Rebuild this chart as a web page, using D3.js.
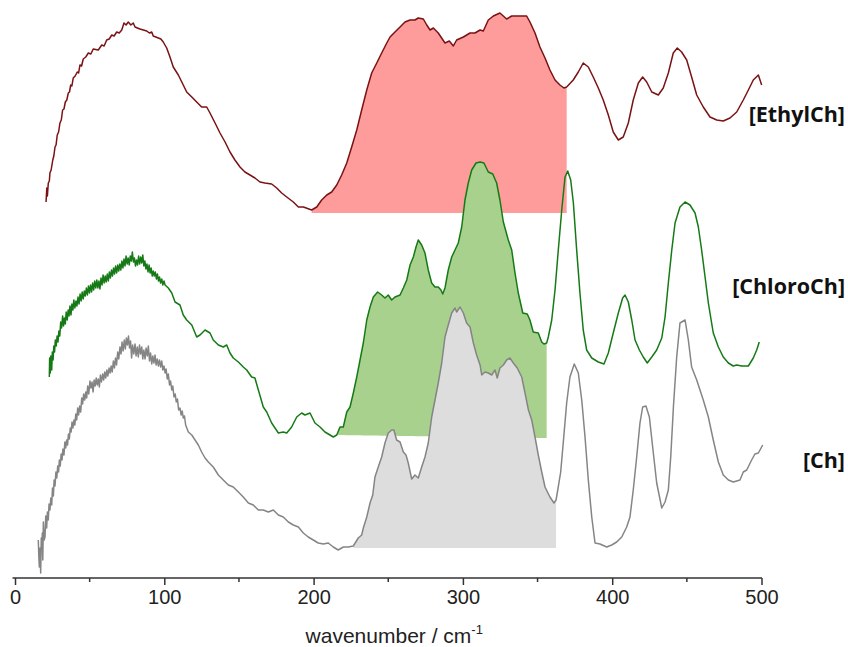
<!DOCTYPE html>
<html>
<head>
<meta charset="utf-8">
<script src="https://cdn.jsdelivr.net/npm/d3@7"></script>
<style>
  html, body { margin: 0; padding: 0; background: #fff; }
  svg { display: block; }
</style>
</head>
<body>
<svg id="chart" width="848" height="647"></svg>
<script>
// Far-IR spectra, offset vertically (intensity in arbitrary units)
// Each entry: [wavenumber / cm-1, intensity]
const ethylCh = [
  [20.8,3.76],[21.3,3.90],[21.7,3.82],[22.3,3.95],[23.0,3.97],[23.4,4.05],[24.2,4.08],[25.3,4.18],
  [26.0,4.22],[26.8,4.31],[27.5,4.33],[28.3,4.43],[29.2,4.46],[30.1,4.55],[31.0,4.58],[31.9,4.68],
  [32.8,4.69],[33.7,4.76],[34.7,4.78],[35.7,4.85],[36.5,4.86],[37.3,4.93],[38.1,4.92],[39.0,5.00],
  [40.3,5.02],[41.7,5.06],[42.6,5.05],[43.5,5.13],[44.6,5.12],[45.7,5.19],[47.4,5.21],[49.1,5.25],
  [50.8,5.24],[52.4,5.29],[55.8,5.28],[58.1,5.33],[59.7,5.32],[61.4,5.38],[63.1,5.39],[64.8,5.43],
  [66.4,5.42],[68.1,5.46],[69.8,5.45],[71.5,5.48],[73.0,5.55],[74.4,5.53],[75.9,5.56],[77.6,5.53],
  [79.2,5.55],[80.4,5.51],[82.0,5.50],[83.7,5.49],[86.0,5.48],[88.2,5.47],[90.0,5.45],[91.6,5.46],
  [92.6,5.42],[94.3,5.41],[96.0,5.40],[97.7,5.39],[99.3,5.36],[101.6,5.30],[103.8,5.21],[106.0,5.11],
  [109.4,5.03],[112.7,4.93],[115.0,4.86],[118.4,4.81],[121.7,4.76],[125.0,4.71],[128.4,4.71],[130.6,4.65],
  [134.0,4.55],[137.3,4.45],[140.7,4.36],[144.0,4.26],[147.3,4.18],[150.7,4.11],[154.0,4.06],[157.4,4.03],
  [160.7,4.00],[164.1,3.96],[167.4,3.95],[171.9,3.94],[175.3,3.90],[178.6,3.85],[182.0,3.81],[186.4,3.76],
  [189.8,3.71],[193.2,3.71],[198.7,3.68],[202.1,3.71],[205.4,3.78],[208.8,3.83],[212.1,3.86],[215.5,3.93],
  [218.8,4.03],[222.2,4.15],[225.5,4.31],[228.9,4.48],[232.2,4.68],[235.6,4.88],[238.9,5.05],[242.3,5.15],
  [245.6,5.25],[249.0,5.35],[251.2,5.41],[254.5,5.46],[257.9,5.51],[261.2,5.56],[264.6,5.58],[267.9,5.58],
  [270.1,5.60],[273.5,5.59],[275.8,5.53],[278.0,5.48],[280.2,5.50],[283.5,5.45],[288.0,5.35],[290.9,5.37],
  [293.6,5.32],[295.8,5.38],[300.3,5.41],[304.8,5.45],[308.1,5.45],[311.5,5.48],[313.7,5.47],[317.0,5.58],
  [320.4,5.62],[324.8,5.65],[329.3,5.59],[332.7,5.62],[338.2,5.62],[342.7,5.62],[344.9,5.56],[348.3,5.45],
  [351.6,5.31],[355.0,5.20],[358.3,5.08],[361.7,4.98],[365.0,4.93],[367.7,4.90],[369.5,4.91],[373.9,4.98],
  [377.3,5.06],[380.6,5.15],[384.0,5.11],[387.3,5.01],[390.7,4.90],[394.0,4.78],[397.4,4.63],[400.7,4.46],
  [404.1,4.38],[407.4,4.41],[410.8,4.55],[414.1,4.78],[417.5,4.95],[420.4,5.01],[423.1,4.96],[426.5,4.86],
  [430.9,4.83],[434.2,4.90],[437.6,5.05],[440.9,5.25],[443.6,5.30],[446.5,5.26],[449.9,5.18],[453.2,5.01],
  [456.6,4.83],[461.0,4.71],[465.5,4.61],[470.0,4.58],[474.4,4.57],[478.9,4.60],[483.4,4.66],[487.8,4.78],
  [491.2,4.88],[494.5,4.98],[497.9,5.03],[500.1,4.93]
];

const chloroCh = [
  [23.0,2.01],[23.2,2.20],[23.6,2.05],[24.0,2.22],[24.6,2.08],[25.0,2.26],[25.5,2.18],[26.0,2.32],
  [26.5,2.26],[27.0,2.38],[27.6,2.32],[28.2,2.42],[28.8,2.36],[29.4,2.47],[30.0,2.42],[30.6,2.56],
  [31.2,2.50],[31.9,2.62],[32.5,2.52],[33.1,2.60],[33.7,2.54],[34.3,2.66],[35.0,2.58],[35.6,2.68],
  [36.2,2.62],[36.8,2.72],[37.5,2.63],[38.1,2.74],[38.8,2.68],[39.4,2.78],[40.1,2.70],[40.8,2.77],
  [41.5,2.72],[42.2,2.81],[42.9,2.74],[43.6,2.84],[44.3,2.77],[45.0,2.86],[45.7,2.79],[46.4,2.87],
  [47.1,2.82],[47.8,2.90],[48.5,2.83],[49.2,2.92],[49.9,2.85],[50.6,2.93],[51.3,2.86],[52.0,2.95],
  [52.7,2.88],[53.4,2.97],[54.1,2.90],[54.8,2.98],[55.5,2.90],[56.2,2.97],[56.9,2.89],[57.6,3.00],
  [58.3,2.93],[59.0,3.03],[59.7,2.95],[60.4,3.02],[61.1,2.96],[61.8,3.04],[62.5,2.97],[63.2,3.06],
  [63.9,3.00],[64.6,3.08],[65.3,3.02],[66.0,3.10],[66.7,3.04],[67.4,3.12],[68.1,3.05],[68.8,3.13],
  [69.5,3.07],[70.2,3.14],[70.9,3.08],[71.6,3.17],[72.3,3.10],[73.0,3.19],[73.7,3.12],[74.4,3.22],
  [75.1,3.14],[75.8,3.20],[76.5,3.13],[77.2,3.22],[77.9,3.17],[78.6,3.26],[79.3,3.16],[80.0,3.20],
  [80.7,3.12],[81.4,3.18],[82.1,3.13],[82.8,3.22],[83.5,3.14],[84.2,3.21],[84.9,3.15],[85.6,3.23],
  [86.3,3.12],[87.0,3.17],[87.7,3.09],[88.4,3.14],[89.1,3.06],[89.8,3.13],[90.5,3.05],[91.2,3.10],
  [91.9,3.02],[92.6,3.07],[93.3,3.02],[94.0,3.06],[94.7,2.99],[95.4,3.04],[96.1,2.97],[96.8,3.01],
  [97.5,2.95],[98.3,2.99],[99.0,2.93],[99.8,2.97],[100.5,2.93],[102.7,2.90],[105.0,2.85],
  [107.2,2.76],[110.5,2.73],[112.7,2.63],[115.0,2.58],[118.4,2.53],[121.7,2.41],[123.9,2.43],[127.3,2.48],
  [130.6,2.45],[132.8,2.38],[136.2,2.33],[139.5,2.31],[141.8,2.33],[144.0,2.25],[146.2,2.20],[149.6,2.16],
  [152.9,2.11],[155.2,2.08],[158.5,2.01],[160.7,2.00],[163.0,1.88],[166.3,1.71],[168.6,1.66],[171.9,1.55],
  [176.4,1.45],[179.7,1.46],[182.0,1.45],[185.3,1.51],[188.7,1.61],[192.0,1.65],[194.2,1.63],[197.6,1.65],
  [200.9,1.55],[204.3,1.51],[207.6,1.46],[213.2,1.41],[215.5,1.43],[217.7,1.51],[219.9,1.51],[222.2,1.66],
  [224.4,1.71],[226.6,1.85],[228.9,2.01],[231.1,2.18],[233.3,2.35],[235.6,2.58],[237.8,2.71],[240.0,2.81],
  [242.9,2.86],[245.6,2.83],[247.8,2.80],[250.0,2.83],[252.3,2.78],[254.5,2.81],[257.9,2.83],[260.1,2.90],
  [262.4,2.98],[264.6,3.13],[266.8,3.21],[268.6,3.31],[270.1,3.38],[272.4,3.33],[274.6,3.25],[276.8,3.08],
  [279.1,2.95],[281.3,2.91],[283.5,2.91],[285.3,2.88],[286.5,2.84],[288.0,2.90],[290.2,3.08],[292.5,3.21],
  [294.7,3.28],[296.9,3.35],[299.2,3.51],[301.4,3.78],[303.6,3.95],[305.9,4.08],[308.8,4.15],[311.5,4.16],
  [314.1,4.15],[317.0,4.06],[320.0,4.04],[322.6,3.95],[324.8,3.78],[327.1,3.56],[330.4,3.38],[332.7,3.28],
  [334.9,3.05],[337.1,2.85],[340.1,2.65],[343.1,2.64],[344.9,2.58],[347.1,2.46],[350.5,2.45],[352.8,2.36],
  [354.3,2.34],[356.1,2.35],[357.2,2.41],[359.5,2.58],[361.7,2.88],[363.9,3.28],[366.2,3.68],[368.4,4.01],
  [370.2,4.07],[372.2,3.98],[374.0,3.75],[376.2,3.28],[378.4,2.85],[380.6,2.48],[382.9,2.28],[386.3,2.20],
  [390.7,2.16],[394.5,2.14],[397.4,2.25],[400.7,2.45],[404.1,2.65],[407.0,2.80],[408.6,2.83],[410.8,2.76],
  [413.1,2.58],[415.3,2.38],[418.2,2.28],[420.8,2.21],[423.5,2.15],[426.5,2.21],[429.8,2.28],[433.2,2.40],
  [435.4,2.61],[437.6,2.95],[439.9,3.28],[442.1,3.55],[445.4,3.71],[448.8,3.76],[452.1,3.73],[455.5,3.65],
  [457.7,3.51],[459.9,3.28],[462.2,3.01],[464.4,2.75],[467.7,2.45],[471.1,2.31],[474.4,2.21],[477.8,2.15],
  [481.1,2.12],[483.4,2.13],[486.7,2.12],[491.2,2.12],[494.5,2.20],[496.8,2.28],[498.5,2.36]
];

const ch = [
  [15.6,0.38],[16.0,0.20],[16.3,0.11],[16.8,0.30],[17.2,0.05],[17.6,0.40],[17.9,0.28],[18.3,0.45],
  [18.6,0.18],[19.0,0.56],[19.5,0.38],[20.1,0.41],[20.6,0.62],[21.2,0.50],[21.7,0.66],[22.3,0.58],
  [22.8,0.74],[23.4,0.68],[24.0,0.80],[24.6,0.73],[25.1,0.90],[25.7,0.82],[26.2,0.98],[26.8,0.92],
  [27.4,1.06],[28.0,1.00],[28.6,1.12],[29.2,1.06],[29.7,1.18],[30.3,1.12],[30.9,1.24],[31.5,1.18],
  [32.1,1.29],[32.8,1.23],[33.4,1.36],[34.0,1.30],[34.6,1.38],[35.2,1.33],[35.8,1.44],[36.4,1.39],
  [37.0,1.50],[37.6,1.46],[38.2,1.56],[38.8,1.50],[39.5,1.58],[40.1,1.53],[40.7,1.64],[41.3,1.58],
  [42.0,1.70],[42.6,1.63],[43.3,1.72],[44.0,1.66],[44.7,1.80],[45.3,1.74],[46.0,1.84],[46.7,1.78],
  [47.4,1.86],[48.0,1.80],[48.7,1.92],[49.4,1.84],[50.2,1.97],[50.9,1.90],[51.6,1.96],[52.3,1.86],
  [53.0,1.98],[53.7,1.92],[54.4,2.00],[55.1,1.93],[55.8,1.99],[56.5,1.91],[57.2,2.03],[57.9,1.96],
  [58.7,2.04],[59.4,1.98],[60.1,2.06],[60.8,2.00],[61.5,2.08],[62.2,2.02],[63.0,2.10],[63.7,2.05],
  [64.4,2.12],[65.1,2.06],[65.9,2.17],[66.6,2.10],[67.3,2.20],[68.0,2.13],[68.8,2.26],[69.5,2.19],
  [70.3,2.31],[71.0,2.24],[71.7,2.36],[72.4,2.27],[73.2,2.38],[73.9,2.29],[74.6,2.40],[75.3,2.33],
  [76.0,2.42],[76.7,2.30],[77.4,2.37],[78.1,2.20],[78.8,2.33],[79.6,2.24],[80.4,2.34],[81.1,2.22],
  [81.9,2.31],[82.6,2.21],[83.4,2.33],[84.1,2.24],[84.9,2.31],[85.6,2.19],[86.3,2.28],[87.1,2.19],
  [87.8,2.30],[88.6,2.22],[89.3,2.32],[90.1,2.17],[90.8,2.25],[91.6,2.14],[92.3,2.22],[93.1,2.15],
  [93.8,2.23],[94.5,2.13],[95.3,2.19],[96.0,2.12],[96.8,2.18],[97.5,2.11],[98.3,2.17],[99.0,2.08],
  [99.8,2.12],[100.5,2.05],[101.2,2.09],[102.0,1.99],[102.7,2.04],[103.5,1.93],[104.2,1.97],[105.0,1.88],
  [105.7,1.92],[106.5,1.81],[107.3,1.84],[108.0,1.76],[108.8,1.79],[109.6,1.68],[110.5,1.70],[111.3,1.63],
  [112.0,1.67],[112.7,1.60],[113.5,1.62],[114.3,1.53],[116.1,1.46],
  [118.4,1.43],[120.6,1.38],[122.8,1.33],[125.0,1.26],[127.3,1.20],[129.5,1.16],[132.8,1.11],[136.2,1.03],
  [139.5,0.98],[142.9,0.93],[146.2,0.91],[149.6,0.86],[152.9,0.81],[156.3,0.75],[159.6,0.73],[163.0,0.68],
  [166.3,0.68],[169.7,0.66],[173.0,0.68],[176.4,0.63],[179.7,0.61],[183.1,0.56],[186.4,0.53],[189.8,0.51],
  [193.1,0.45],[196.4,0.41],[199.8,0.38],[203.1,0.35],[206.5,0.34],[209.8,0.35],[213.2,0.31],[216.5,0.28],
  [219.9,0.31],[223.2,0.31],[226.6,0.32],[229.9,0.40],[232.2,0.43],[233.3,0.50],[235.6,0.61],[237.8,0.75],
  [239.6,0.83],[241.1,1.01],[243.3,1.11],[245.6,1.21],[247.8,1.35],[250.0,1.45],[252.3,1.48],[253.8,1.48],
  [255.6,1.38],[257.9,1.36],[260.1,1.26],[261.9,1.23],[263.4,1.15],[265.7,0.99],[267.9,1.03],[270.1,1.00],
  [272.4,1.11],[274.6,1.21],[276.8,1.35],[279.1,1.61],[281.3,1.78],[283.5,1.95],[285.8,2.15],[288.0,2.41],
  [290.2,2.53],[292.5,2.65],[294.7,2.70],[295.8,2.66],[298.1,2.71],[300.3,2.65],[302.5,2.55],[304.8,2.51],
  [307.0,2.35],[309.2,2.23],[311.5,2.13],[312.6,2.03],[314.8,2.06],[317.0,2.05],[319.3,2.03],[321.5,2.08],
  [323.0,2.00],[324.8,2.10],[327.1,2.13],[329.3,2.18],[331.5,2.20],[333.8,2.15],[336.4,2.10],[339.4,2.01],
  [341.6,1.85],[343.9,1.68],[346.1,1.58],[348.3,1.41],[350.5,1.23],[352.8,1.06],[355.0,0.91],[358.3,0.81],
  [361.0,0.75],[362.4,0.78],[363.2,0.85],[365.5,1.06],[367.2,1.35],[369.5,1.75],[371.7,2.01],[374.6,2.14],
  [377.3,2.05],[379.6,1.78],[381.8,1.41],[384.0,0.98],[386.3,0.61],[388.5,0.35],[391.8,0.34],[396.3,0.31],
  [399.7,0.33],[403.0,0.36],[406.4,0.41],[409.7,0.51],[411.9,0.61],[414.1,0.88],[416.4,1.21],[418.6,1.55],
  [420.4,1.71],[422.6,1.72],[424.9,1.61],[427.1,1.31],[429.8,0.95],[433.2,0.70],[435.4,0.76],[437.6,0.88],
  [439.2,1.21],[441.0,1.71],[443.2,2.21],[445.4,2.55],[448.8,2.58],[451.0,2.38],[453.2,2.11],[456.6,1.98],
  [458.8,1.88],[461.0,1.78],[464.4,1.61],[467.7,1.38],[471.1,1.16],[474.4,1.03],[477.8,0.98],[481.1,0.96],
  [485.6,0.98],[487.8,1.06],[490.1,1.08],[493.4,1.18],[495.6,1.24],[497.9,1.25],[500.8,1.33]
];

// Shaded band of each spectrum: [from, to] wavenumber, baseline intensity at both ends
const bandRanges = { ethylCh: [198.7, 369.5], chloroCh: [215.5, 356.1], ch: [226.6, 362.4] };
const bandBases  = { ethylCh: [3.65, 3.65],   chloroCh: [1.43, 1.40],   ch: [0.30, 0.30] };

const seriesNames = ["[EthylCh]", "[ChloroCh]", "[Ch]"];
const labelLevels = [4.56, 2.84, 1.10];

const xTicks = [0, 100, 200, 300, 400, 500];
const xMinorTicks = [50, 150, 250, 350, 450];

const series = [
  { key: "ethylCh", data: ethylCh, line: "#7a1214", fill: "#fe9c9c" },
  { key: "chloroCh", data: chloroCh, line: "#157a15", fill: "#a9d18e" },
  { key: "ch", data: ch, line: "#858585", fill: "#dddddd" }
];

const svg = d3.select("#chart");
const x = d3.scaleLinear().domain([0, 500]).range([15, 761.5]);
const y = d3.scaleLinear().domain([0, 5.78]).range([578, 0]);

const line = d3.line().x(d => x(d[0])).y(d => y(d[1]));

series.forEach(s => {
  const [lo, hi] = bandRanges[s.key];
  const [b0, b1] = bandBases[s.key];
  const band = s.data.filter(d => d[0] >= lo && d[0] <= hi);
  const base = wn => b0 + (b1 - b0) * (wn - lo) / (hi - lo);
  const area = d3.area()
    .x(d => x(d[0]))
    .y0(d => y(base(d[0])))
    .y1(d => y(d[1]));
  svg.append("path")
    .datum(band)
    .attr("d", area)
    .attr("fill", s.fill)
    .attr("stroke", "none");
  svg.append("path")
    .datum(s.data)
    .attr("d", line)
    .attr("fill", "none")
    .attr("stroke", s.line)
    .attr("stroke-width", 1.5)
    .attr("stroke-linejoin", "round");
});

// Series labels at the right edge
svg.selectAll("text.series-label")
  .data(seriesNames)
  .join("text")
  .attr("class", "series-label")
  .attr("x", 845)
  .attr("y", (d, i) => y(labelLevels[i]))
  .attr("text-anchor", "end")
  .attr("font-family", "'Open Sans', 'Noto Sans', sans-serif")
  .attr("font-weight", "bold")
  .attr("font-size", 21.5)
  .attr("fill", "#111")
  .text(d => d);

// x axis
const axisG = svg.append("g").attr("transform", `translate(0,${y(0)})`);
axisG.call(d3.axisBottom(x).tickValues(xTicks).tickSize(7).tickSizeOuter(0).tickPadding(5))
  .call(g => g.select(".domain").attr("d", `M12.5,0H${x(500) + 0.5}`));
axisG.selectAll(".tick line").attr("stroke", "#333").attr("stroke-width", 1.5);
axisG.select(".domain").attr("stroke", "#333").attr("stroke-width", 1.5);
axisG.selectAll(".tick text")
  .attr("font-family", "'Liberation Sans', Arial, sans-serif")
  .attr("font-size", 20)
  .attr("fill", "#222");

axisG.selectAll("line.minor")
  .data(xMinorTicks)
  .join("line")
  .attr("class", "minor")
  .attr("x1", d => x(d)).attr("x2", d => x(d))
  .attr("y1", 0).attr("y2", 4)
  .attr("stroke", "#333").attr("stroke-width", 1.5);

const title = svg.append("text")
  .attr("x", x(250) + 6)
  .attr("y", 643)
  .attr("text-anchor", "middle")
  .attr("font-family", "'Liberation Sans', Arial, sans-serif")
  .attr("font-size", 21)
  .attr("fill", "#222");
title.append("tspan").text("wavenumber / cm");
title.append("tspan").attr("font-size", 13).attr("dy", -9).text("-1");
</script>
</body>
</html>
